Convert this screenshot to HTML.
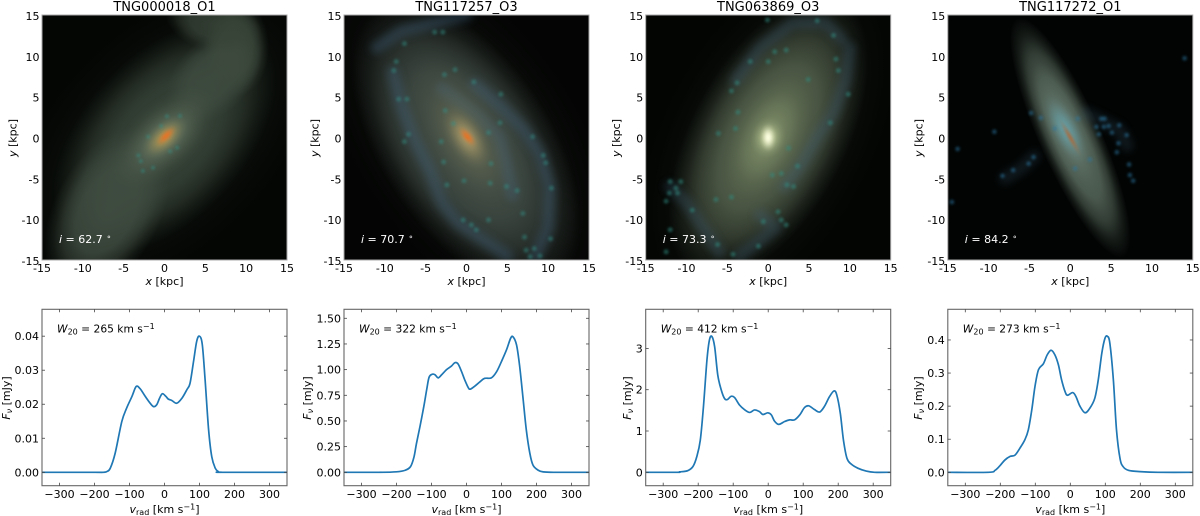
<!DOCTYPE html>
<html lang="en">
<head>
<meta charset="utf-8">
<title>Galaxy images and HI spectra</title>
<style>
html,body{margin:0;padding:0;background:#fff;width:1200px;height:516px;overflow:hidden}
svg{display:block;filter:blur(0.3px)}
text{font-family:"DejaVu Sans","Liberation Sans",sans-serif;fill:#000}
.i{font-style:italic}
</style>
</head>
<body>
<svg id="figure" xmlns="http://www.w3.org/2000/svg" width="1200" height="516" viewBox="0 0 1200 516">
<defs id="defs">
<filter id="b1" x="-100%" y="-100%" width="300%" height="300%"><feGaussianBlur stdDeviation="1.2"/></filter>
<filter id="b4" x="-100%" y="-100%" width="300%" height="300%"><feGaussianBlur stdDeviation="4"/></filter>
</defs>
</svg>
<script>
/* ---------- figure values ---------- */
const galaxyNames = ['TNG000018_O1','TNG117257_O3','TNG063869_O3','TNG117272_O1'];
const inclinations = ['62.7','70.7','73.3','84.2'];
const widths20 = ['265','322','412','273'];
const imageTicks = [-15,-10,-5,0,5,10,15];
const velocityTicks = [-300,-200,-100,0,100,200,300];

const velocityA = [-350,-200,-175,-165,-155,-141,-122,-108,-93,-81,-70,-55,-41,-31,-22,-14,-6,4,11,21,35,50,64,73,83,92,100,108,116,126,135,145,154,165,350];
const fluxA = [0,0,0,.0002,.0012,.0056,.0149,.0189,.0223,.0252,.0246,.0223,.0203,.0193,.0199,.0218,.0231,.0223,.0215,.0211,.0203,.0218,.0243,.0262,.0326,.0385,.04,.0375,.0272,.0125,.0046,.0012,.0002,0,0];
const velocityB = [-350,-250,-200,-175,-160,-150,-143,-133,-122,-114,-107,-98,-90,-81,-71,-57,-43,-33,-24,-14,-5,5,11,24,38,52,71,86,100,114,126,133,143,152,162,171,181,190,205,219,250,350];
const fluxB = [0,0,.005,.02,.055,.15,.28,.445,.64,.8,.925,.955,.95,.92,.95,1,1.035,1.068,1.055,.98,.9,.825,.81,.84,.88,.915,.92,.98,1.08,1.19,1.305,1.32,1.24,1.03,.705,.41,.185,.07,.02,.004,0,0];
const velocityC = [-350,-260,-253,-230,-215,-204,-194,-185,-175,-168,-161,-153,-144,-134,-125,-117,-106,-96,-82,-68,-53,-39,-25,-15,-1,9,18,30,47,61,75,90,104,116,132,147,161,175,188,196,206,215,225,237,256,280,304,350];
const fluxC = [0,0,.01,.04,.14,.38,.78,1.59,2.72,3.2,3.29,3.04,2.35,1.99,1.79,1.76,1.84,1.81,1.63,1.52,1.45,1.51,1.47,1.4,1.44,1.39,1.24,1.16,1.23,1.27,1.27,1.39,1.57,1.61,1.52,1.46,1.6,1.83,1.97,1.87,1.43,.78,.34,.2,.1,.03,0,0];
const velocityD = [-350,-234,-215,-201,-187,-172,-158,-144,-130,-120,-110,-101,-91,-77,-66,-55,-44,-34,-25,-15,-8,7,16,28,42,56,70,80,90,99,106,113,123,132,142,151,166,199,250,350];
const fluxD = [0,0,.006,.02,.037,.048,.052,.073,.098,.128,.189,.259,.31,.328,.355,.369,.355,.325,.28,.244,.233,.241,.229,.199,.18,.194,.224,.28,.36,.405,.411,.39,.28,.128,.042,.017,.006,.002,0,0];

const spotsA = [[1.9,2.65],[-.4,1.4],[-2,.1],[-2.9,-2.9],[-1.4,-3.7],[.7,-1.7],[1.55,-1.25],[.3,2.6],[-3.2,-2.2],[-2.65,-4.1]];
const spotsB = [[4.2,5.3],[-7.1,.4],[8.1,.1],[9.4,-2.2],[9.7,-3.1],[10.4,-6.2],[10.3,-12.4],[7.1,-12.2],[7.3,-13.8],[8.3,-13.6],[9,-14.5],[7.8,-14.6],[6.2,-6.5],[-.4,-10.1],[.6,-10.7],[2.7,-10.1],[1.2,-11.3],[-8.6,9.3],[-8.9,8.2],[-7.6,11.5],[-2.9,12.9],[-2.7,7.7],[-1.4,8.3],[.9,6.8],[-8.3,4.7],[-7.3,4.7],[-3.1,-.5],[-7.6,-.5],[-2.8,-3],[2.9,-5.6],[-.3,-5.3],[-2.4,-5.8],[4.1,1.8],[-1.6,1.7],[-2.6,3.3],[2.7,.6],[3,-3.2],[4.9,-6],[6.9,-9.3],[-3.9,12.9]];
const spotsC = [[-.1,14.4],[6,14.3],[8,12.5],[.8,10.5],[2.2,10.7],[-2.2,9.3],[0,9.3],[8.3,9.6],[8.6,8.2],[-3.8,6.7],[-4.5,5.7],[9.8,5.3],[4.9,7.1],[-3.7,3.1],[7.6,1.8],[-4,1.1],[-6.1,.5],[3.6,-3.5],[2.5,-1.3],[.5,-4.6],[1.6,-4.4],[-12,-5.4],[-10.7,-5.4],[-11.3,-6.2],[-12.1,-6.8],[-11.1,-6.8],[-12.5,-7.8],[-9.3,-8.9],[-6.4,-7.6],[-4.5,-7.3],[1.6,-10.1],[2.2,-10.7],[1.2,-9.1],[-.6,-10.3],[-4.3,-14.3],[-12.5,-14],[-6.2,-13.1],[-12,-11.3],[-1.2,-13.3],[3.1,-6],[2.3,-5.8]];
const spotsD = [[-4.8,3],[-3.6,2.4],[-9.3,.7],[3.8,2.3],[4.7,1.4],[4.1,1.3],[3.5,.4],[5.1,.6],[7.2,-3.3],[7.3,-4.6],[7.7,-5.3],[-7,-4],[-8.3,-4.7],[-4.5,-2.4],[-5.1,-3.2],[6.9,.3],[5.9,-.7],[5.7,-1.8],[.9,2.3],[-1.9,1.1],[.6,-3.8],[2.4,-2.7],[-13.8,-1.4],[-14.5,-7.9],[14,9.7],[6,1.5],[3.2,1.3],[4.2,2.3]];

/* Diffuse light of each galaxy: centre x, centre y, fade-out half-axes in kpc, angle, colour, opacity, profile (1 = flat-topped) */
const lightA = [[0,0,24,14,45,'#2a352b',.7,0],[0,0,17,10,48,'#39463a',.85,1],[-7,-9,11,6.5,62,'#414e42',.9,1],[6,7.5,7,4.5,45,'#3f4c40',.85,1],[8.8,11,4,6,0,'#3d4a3d',.9,1],[6,14,6,3.5,-15,'#384438',.85,1],[0,0,8,4.5,42,'#6a7c68',.9,0],[0,0,3.5,1.9,42,'#b0964f',.9,0],[.2,.2,1.8,.8,45,'#e0752a',1,0]];
const lightB = [[0,0,26,14,-56,'#2f362f',.8,0],[0,-1,20,10.5,-57,'#3f4a44',.95,1],[0,0,12,6,-60,'#6d7258',.7,0],[0,0,4.5,2.4,-58,'#b09d68',.85,0],[.1,.1,1.7,.8,-50,'#e0752a',1,0]];
const lightC = [[0,0,24,13,62,'#2e362b',.8,0],[0,0,19,9.5,62,'#4a5645',.95,1],[0,0,14,7,62,'#6a7858',.85,0],[0,0,8,4.5,65,'#8a9a72',.6,0],[0,0,2.6,2.2,80,'#c4d09a',.9,0],[0,0,1.1,1.8,0,'#fcfee0',1,0]];
const lightD = [[0,0,16,3.8,-66,'#56675a',.95,1],[-.5,.8,9,3,-66,'#70857a',.8,0],[-.6,1,5,2,-62,'#62a0aa',.85,0],[0,0,3,.55,-60,'#a86c40',.85,0]];

/* Spiral arm ridgelines in kpc */
const armsB = [[[-11,11],[-8,13],[-4,14],[0,15]],[[-9,8],[-8,4],[-6.5,0],[-4.5,-4],[-3,-8],[-1,-10.5],[2,-12.5],[5,-14.5]],[[1,6.5],[4,4],[7,1],[9,-2],[10.2,-6],[10,-11],[8.5,-14.5]],[[-3,6],[1,3],[4,0],[5,-4],[5.6,-7]]];
const armsC = [[[-12,-6],[-10,-8],[-8,-11],[-6,-14]],[[-1,-9.5],[1,-11],[-1.5,-13],[-3.5,-14.5]],[[2,-6],[4,-3.5],[6,0],[8,3],[9.5,7],[10,11]],[[-4,7],[-1,11],[3,14],[7,14],[9,12]]];
const armsD = [[[2,3],[4,2],[6,1],[7,-1]],[[-8,-5],[-6,-3.8],[-4.4,-2.3]]];

const galaxies = [
  {bg:'#040604',light:lightA,arms:[],armOp:0,spots:spotsA,spot:'#2f9488',spotOp:.55,spotR:.22},
  {bg:'#030403',light:lightB,arms:armsB,armOp:.38,spots:spotsB,spot:'#2f8f86',spotOp:.5,spotR:.3},
  {bg:'#030503',light:lightC,arms:armsC,armOp:.3,spots:spotsC,spot:'#2f8a80',spotOp:.55,spotR:.3},
  {bg:'#020403',light:lightD,arms:armsD,armOp:.22,spots:spotsD,spot:'#2c74a0',spotOp:.55,spotR:.28}
];
const spectra = [
  {v:velocityA,f:fluxA,lim:[-.00394,.0479],ticks:[0,.01,.02,.03,.04],labels:['0.00','0.01','0.02','0.03','0.04'],ylabX:10},
  {v:velocityB,f:fluxB,lim:[-.1305,1.5876],ticks:[0,.25,.5,.75,1,1.25,1.5],labels:['0.00','0.25','0.50','0.75','1.00','1.25','1.50'],ylabX:311},
  {v:velocityC,f:fluxC,lim:[-.3245,3.947],ticks:[0,1,2,3],labels:['0','1','2','3'],ylabX:631},
  {v:velocityD,f:fluxD,lim:[-.0405,.4927],ticks:[0,.1,.2,.3,.4],labels:['0.0','0.1','0.2','0.3','0.4'],ylabX:922}
];

/* ---------- layout ---------- */
const panelLeft = [42,344,645.7,947.8];
const panelWidth = 245;
const imgTop = 15, imgBottom = 260;
const specTop = 309.3, specBottom = 485.7;
const NS = 'http://www.w3.org/2000/svg';
const fig = document.getElementById('figure');
const defs = document.getElementById('defs');
const tickSize = 11;
const softStops = [[0,1],[.15,.92],[.3,.72],[.45,.48],[.6,.27],[.75,.11],[.9,.03],[1,0]];
const flatStops = [[0,1],[.5,.9],[.7,.6],[.85,.25],[1,0]];

function mk(tag, parent, name, interact) {
  const el = document.createElementNS(NS, tag);
  
  
  parent.appendChild(el);
  return el;
}
function set(el, attrs) { for (const k in attrs) el.setAttribute(k, attrs[k]); return el; }
function span(textEl, str, opts) {
  const s = document.createElementNS(NS, 'tspan');
  s.textContent = str;
  if (opts) set(s, opts);
  textEl.appendChild(s);
  return s;
}
function label(parent, name, str, x, y, size, anchor, fill) {
  const t = mk('text', parent, name, false);
  set(t, {x:x, y:y, 'font-size':size, 'text-anchor':anchor || 'middle'});
  if (fill) t.style.fill = fill;
  if (str) t.textContent = str;
  return t;
}
let gradCount = 0;
function softFill(color, flat) {
  const id = 'soft' + (gradCount++);
  const g = document.createElementNS(NS, 'radialGradient');
  g.setAttribute('id', id);
  (flat ? flatStops : softStops).forEach(function (st) {
    const s = document.createElementNS(NS, 'stop');
    set(s, {offset:st[0], 'stop-color':color, 'stop-opacity':st[1]});
    g.appendChild(s);
  });
  defs.appendChild(g);
  return 'url(#' + id + ')';
}
function smoothPath(xs, ys) {
  let d = 'M' + xs[0].toFixed(2) + ' ' + ys[0].toFixed(2);
  for (let i = 0; i < xs.length - 1; i++) {
    const i0 = Math.max(i - 1, 0), i3 = Math.min(i + 2, xs.length - 1);
    const c1x = xs[i] + (xs[i + 1] - xs[i0]) / 6, c1y = ys[i] + (ys[i + 1] - ys[i0]) / 6;
    const c2x = xs[i + 1] - (xs[i3] - xs[i]) / 6, c2y = ys[i + 1] - (ys[i3] - ys[i]) / 6;
    d += 'C' + c1x.toFixed(2) + ' ' + c1y.toFixed(2) + ' ' + c2x.toFixed(2) + ' ' + c2y.toFixed(2) + ' ' + xs[i + 1].toFixed(2) + ' ' + ys[i + 1].toFixed(2);
  }
  return d;
}

galaxies.forEach(function (g, p) {
  const left = panelLeft[p];
  const sx = function (k) { return left + (k + 15) / 30 * panelWidth; };
  const sy = function (k) { return imgBottom - (k + 15) / 30 * (imgBottom - imgTop); };
  const pxPerKpc = panelWidth / 30;

  const group = mk('g', fig, 'image-panel-' + (p + 1), false);
  const clip = document.createElementNS(NS, 'clipPath');
  clip.setAttribute('id', 'clip' + p);
  const clipRect = document.createElementNS(NS, 'rect');
  set(clipRect, {x:left, y:imgTop, width:panelWidth, height:imgBottom - imgTop});
  clip.appendChild(clipRect);
  group.appendChild(clip);

  const art = mk('g', group, 'galaxy-image', false);
  art.setAttribute('clip-path', 'url(#clip' + p + ')');
  const bg = mk('rect', art, 'image-background', false);
  set(bg, {x:left, y:imgTop, width:panelWidth, height:imgBottom - imgTop, fill:g.bg});

  const split = Math.max(1, g.light.length - 3);
  g.light.slice(0, split).forEach(function (b) {
    const e = mk('ellipse', art, 'galaxy-light', false);
    set(e, {cx:sx(b[0]), cy:sy(b[1]), rx:b[2] * pxPerKpc, ry:b[3] * pxPerKpc, fill:softFill(b[5], b[7]), opacity:b[6],
      transform:'rotate(' + (-b[4]) + ' ' + sx(b[0]) + ' ' + sy(b[1]) + ')'});
  });
  g.arms.forEach(function (arm) {
    const l = mk('polyline', art, 'spiral-arm', false);
    set(l, {points:arm.map(function (q) { return sx(q[0]) + ',' + sy(q[1]); }).join(' '), fill:'none', stroke:'#40607a', 'stroke-width':12,
      'stroke-linecap':'round', 'stroke-linejoin':'round', opacity:g.armOp, filter:'url(#b4)'});
  });
  g.light.slice(split).forEach(function (b) {
    const e = mk('ellipse', art, 'galaxy-core-light', false);
    set(e, {cx:sx(b[0]), cy:sy(b[1]), rx:b[2] * pxPerKpc, ry:b[3] * pxPerKpc, fill:softFill(b[5], b[7]), opacity:b[6],
      transform:'rotate(' + (-b[4]) + ' ' + sx(b[0]) + ' ' + sy(b[1]) + ')'});
  });
  const spotLayer = mk('g', art, 'star-forming-knots', false);
  spotLayer.setAttribute('filter', 'url(#b1)');
  g.spots.forEach(function (s) {
    const c = mk('circle', spotLayer, 'star-knot', false);
    set(c, {cx:sx(s[0]), cy:sy(s[1]), r:g.spotR * pxPerKpc, fill:g.spot, opacity:g.spotOp});
  });
  const frame = mk('rect', group, 'image-frame', false);
  set(frame, {x:left, y:imgTop, width:panelWidth, height:imgBottom - imgTop, fill:'none', stroke:'#a8a8a8', 'stroke-width':1});

  label(group, 'panel-title', galaxyNames[p], left + panelWidth / 2, 10.8, 13);
  imageTicks.forEach(function (t) {
    label(group, 'x-tick-label', String(t), sx(t), 272, tickSize);
    label(group, 'y-tick-label', String(t), left - 2.5, sy(t) + 5, tickSize, 'end');
  });
  const xl = label(group, 'x-axis-title', '', left + panelWidth / 2, 285, tickSize);
  span(xl, 'x', {class:'i'});
  span(xl, ' [kpc]');
  const yx = left - 25.5;
  const yl = label(group, 'y-axis-title', '', yx, 138, tickSize);
  yl.setAttribute('transform', 'rotate(-90 ' + yx + ' 138)');
  span(yl, 'y', {class:'i'});
  span(yl, ' [kpc]');
  const inc = label(group, 'inclination-label', '', left + 17, 243, tickSize, 'start', '#fff');
  const a = span(inc, 'i', {class:'i'});
  a.style.fill = '#fff';
  const bTxt = span(inc, ' = ' + inclinations[p] + ' ');
  bTxt.style.fill = '#fff';
  const deg = span(inc, '\u2218', {dy:-3.5, 'font-size':8});
  deg.style.fill = '#fff';
});

spectra.forEach(function (s, p) {
  const left = panelLeft[p];
  const sx = function (v) { return left + (v + 350) / 700 * panelWidth; };
  const sy = function (f) { return specBottom - (f - s.lim[0]) / (s.lim[1] - s.lim[0]) * (specBottom - specTop); };
  const group = mk('g', fig, 'spectrum-panel-' + (p + 1), false);

  const line = mk('path', group, 'flux-line', false);
  set(line, {d:smoothPath(s.v.map(sx), s.f.map(sy)), fill:'none', stroke:'#1f77b4', 'stroke-width':1.7, 'stroke-linejoin':'round'});

  const frame = mk('rect', group, 'axes-frame', false);
  set(frame, {x:left, y:specTop, width:panelWidth, height:specBottom - specTop, fill:'none', stroke:'#666', 'stroke-width':1.1});

  velocityTicks.forEach(function (t) {
    const a = mk('line', group, 'x-tick-bottom', false);
    set(a, {x1:sx(t), x2:sx(t), y1:specBottom, y2:specBottom - 3, stroke:'#444', 'stroke-width':.8});
    const b = mk('line', group, 'x-tick-top', false);
    set(b, {x1:sx(t), x2:sx(t), y1:specTop, y2:specTop + 3, stroke:'#444', 'stroke-width':.8});
    label(group, 'x-tick-label', String(t).replace('-', '\u2212'), sx(t), 498, tickSize);
  });
  s.ticks.forEach(function (t, i) {
    const a = mk('line', group, 'y-tick-left', false);
    set(a, {x1:left, x2:left + 3, y1:sy(t), y2:sy(t), stroke:'#444', 'stroke-width':.8});
    const b = mk('line', group, 'y-tick-right', false);
    set(b, {x1:left + panelWidth, x2:left + panelWidth - 3, y1:sy(t), y2:sy(t), stroke:'#444', 'stroke-width':.8});
    label(group, 'y-tick-label', s.labels[i], left - 3, sy(t) + 4, tickSize, 'end');
  });

  const xl = label(group, 'x-axis-title', '', left + panelWidth / 2, 513, tickSize);
  span(xl, 'v', {class:'i'});
  span(xl, 'rad', {dy:2, 'font-size':8});
  span(xl, ' [km s', {dy:-2});
  span(xl, '\u22121', {dy:-3.5, 'font-size':8});
  span(xl, ']', {dy:3.5});

  const yl = label(group, 'y-axis-title', '', s.ylabX, 398, tickSize);
  yl.setAttribute('transform', 'rotate(-90 ' + s.ylabX + ' 398)');
  span(yl, 'F', {class:'i'});
  span(yl, '\u03bd', {class:'i', dy:2, 'font-size':8});
  span(yl, ' [mJy]', {dy:-2});

  const w = label(group, 'line-width-label', '', left + 15, 332.5, 10.7, 'start');
  span(w, 'W', {class:'i'});
  span(w, '20', {dy:2, 'font-size':8});
  span(w, ' = ' + widths20[p] + ' km s', {dy:-2});
  span(w, '\u22121', {dy:-3.5, 'font-size':8});
});
</script>
</body>
</html>
